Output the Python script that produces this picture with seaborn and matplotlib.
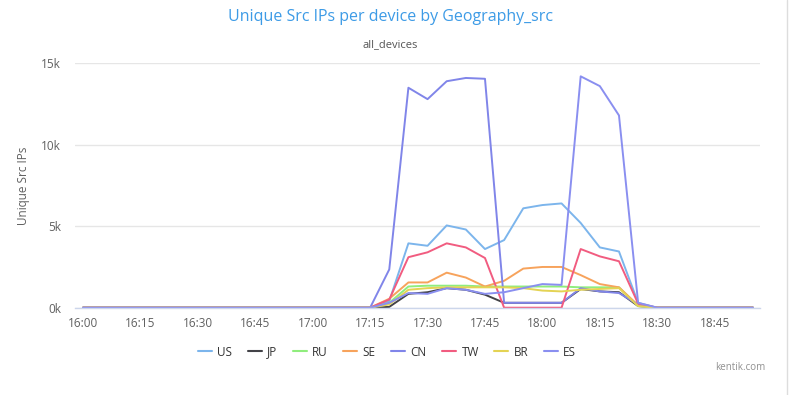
import pandas as pd
import numpy as np
import matplotlib
matplotlib.use('Agg')
import matplotlib.pyplot as plt
import matplotlib.dates as mdates
from matplotlib.lines import Line2D
import seaborn as sns

# Sample times, every 5 minutes from 16:00 to 18:55
times = pd.date_range('2017-01-01 16:00', '2017-01-01 18:55', freq='5min')

# Unique source IPs (thousands) per geography
us = [0, 0, 0, 0, 0, 0, 0, 0, 0, 0, 0, 0, 0, 0, 0,
      0, 0.4, 3.95, 3.8, 5.05, 4.8, 3.6, 4.15, 6.1, 6.3, 6.4, 5.2, 3.7, 3.45, 0.3,
      0, 0, 0, 0, 0, 0]
jp = [0, 0, 0, 0, 0, 0, 0, 0, 0, 0, 0, 0, 0, 0, 0,
      0, 0.05, 0.85, 0.95, 1.2, 1.1, 0.8, 0.3, 0.3, 0.3, 0.3, 1.15, 1.0, 0.95, 0.1,
      0, 0, 0, 0, 0, 0]
ru = [0, 0, 0, 0, 0, 0, 0, 0, 0, 0, 0, 0, 0, 0, 0,
      0, 0.3, 1.3, 1.35, 1.35, 1.35, 1.3, 1.3, 1.3, 1.3, 1.3, 1.25, 1.25, 1.25, 0.1,
      0, 0, 0, 0, 0, 0]
se = [0, 0, 0, 0, 0, 0, 0, 0, 0, 0, 0, 0, 0, 0, 0,
      0, 0.55, 1.55, 1.55, 2.15, 1.85, 1.3, 1.65, 2.4, 2.5, 2.5, 2.0, 1.45, 1.25, 0.15,
      0, 0, 0, 0, 0, 0]
cn = [0, 0, 0, 0, 0, 0, 0, 0, 0, 0, 0, 0, 0, 0, 0,
      0, 2.35, 13.5, 12.8, 13.9, 14.1, 14.05, 0.3, 0.3, 0.3, 0.3, 1.2, 1.0, 0.9, 0.2,
      0, 0, 0, 0, 0, 0]
tw = [0, 0, 0, 0, 0, 0, 0, 0, 0, 0, 0, 0, 0, 0, 0,
      0, 0.5, 3.1, 3.4, 3.95, 3.7, 3.05, 0, 0, 0, 0, 3.6, 3.15, 2.85, 0.25,
      0, 0, 0, 0, 0, 0]
br = [0, 0, 0, 0, 0, 0, 0, 0, 0, 0, 0, 0, 0, 0, 0,
      0, 0.2, 1.1, 1.2, 1.25, 1.25, 1.25, 1.25, 1.2, 1.05, 1.0, 1.1, 1.15, 1.2, 0.1,
      0, 0, 0, 0, 0, 0]
es = [0, 0, 0, 0, 0, 0, 0, 0, 0, 0, 0, 0, 0, 0, 0,
      0, 0.3, 0.9, 0.85, 1.2, 1.1, 0.85, 0.95, 1.2, 1.45, 1.4, 14.2, 13.6, 11.8, 0.3,
      0, 0, 0, 0, 0, 0]

geos = ['US', 'JP', 'RU', 'SE', 'CN', 'TW', 'BR', 'ES']
colors = ['#7cb5ec', '#434348', '#90ed7d', '#f7a35c', '#8085e9', '#f15c80', '#e4d354', '#8a8ff0']

series = dict(zip(geos, [us, jp, ru, se, cn, tw, br, es]))
df = pd.concat([pd.DataFrame({'time': times, 'ips': vals, 'geo': g}) for g, vals in series.items()],
               ignore_index=True)

sns.set_style('white')
plt.rcParams['font.family'] = ['Open Sans', 'DejaVu Sans']

fig = plt.figure(figsize=(7.9, 3.95), dpi=100)
ax = fig.add_axes([75 / 790, 1 - 307.7 / 395, 685 / 790, (307.7 - 63.3) / 395])

sns.lineplot(data=df, x='time', y='ips', hue='geo', hue_order=geos,
             palette=dict(zip(geos, colors)), linewidth=1.4, legend=False, ax=ax)

ax.set_ylim(0, 15)
ax.set_yticks([0, 5, 10, 15])
ax.yaxis.set_major_formatter(matplotlib.ticker.FuncFormatter(lambda v, p: f'{v:.0f}k'))
ax.set_xlim(pd.Timestamp('2017-01-01 15:57:55'), pd.Timestamp('2017-01-01 18:56:50'))
ax.xaxis.set_major_locator(mdates.MinuteLocator(byminute=[0, 15, 30, 45]))
ax.xaxis.set_major_formatter(mdates.DateFormatter('%H:%M'))

ax.grid(axis='y', color='#e6e6e6', linewidth=1)
ax.grid(axis='x', visible=False)
for s in ['top', 'right', 'left']:
    ax.spines[s].set_visible(False)
ax.spines['bottom'].set_color('#ccd6eb')
ax.spines['bottom'].set_linewidth(1)
ax.tick_params(axis='x', length=5, width=0.8, color='#ccd6eb', labelsize=8.5, labelcolor='#606060', pad=2)
ax.tick_params(axis='y', length=0, labelsize=8.5, labelcolor='#606060', pad=10)

ax.set_xlabel('')
ax.set_ylabel('Unique Src IPs', fontsize=8.5, color='#606060')
ax.yaxis.set_label_coords(-0.066, 0.5)

fig.text(0.494, 1 - 17 / 395, 'Unique Src IPs per device by Geography_src', ha='center', va='center',
         fontsize=11.5, color='#3d9be6')
fig.text(0.494, 1 - 45 / 395, 'all_devices', ha='center', va='center', fontsize=8, color='#555555')
fig.text(740 / 790, 1 - 367 / 395, 'kentik.com', ha='center', va='center', fontsize=7, color='#909090')

handles = [Line2D([0], [0], color=c, linewidth=1.5) for c in colors]
fig.legend(handles, geos, loc='center', bbox_to_anchor=(0.49, 1 - 352 / 395), ncol=8, frameon=False,
           fontsize=8.5, handlelength=1.2, handletextpad=0.45, columnspacing=1.3,
           labelcolor='#333333')

# right border of the screenshot panel
fig.add_artist(Line2D([787 / 790, 787 / 790], [0, 1], color='#dddddd', linewidth=1))

fig.savefig('out.png', dpi=100)
